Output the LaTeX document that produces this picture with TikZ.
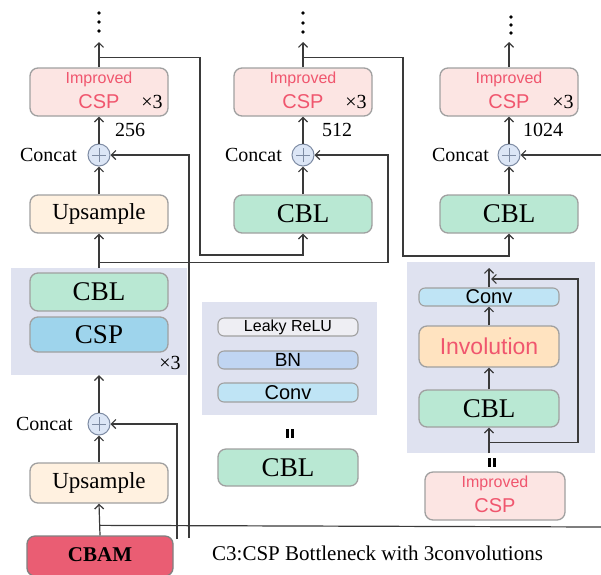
\documentclass[tikz,border=0pt]{standalone}
\usepackage{fontspec}
\setmainfont{Liberation Serif}
\newfontfamily\arialf{Liberation Sans}
\usetikzlibrary{arrows.meta}
\definecolor{bordergray}{HTML}{A0A0A0}
\definecolor{impfill}{HTML}{FCE5E3}
\definecolor{imptext}{HTML}{F0566E}
\definecolor{upfill}{HTML}{FFF1E0}
\definecolor{cblfill}{HTML}{B9E8D3}
\definecolor{cspfill}{HTML}{9ED4EC}
\definecolor{grpfill}{HTML}{DFE2F0}
\definecolor{leakyfill}{HTML}{EEEEF3}
\definecolor{bnfill}{HTML}{C0D5F2}
\definecolor{convfill}{HTML}{BFE4F5}
\definecolor{invfill}{HTML}{FFE3C0}
\definecolor{cbamfill}{HTML}{EA5D73}
\definecolor{catfill}{HTML}{DCE6F6}
\definecolor{catdraw}{HTML}{7D8BA3}
\definecolor{linec}{HTML}{3A3A3A}
\newcommand\myfs[1]{\fontsize{#1}{#1}\selectfont}
\begin{document}
\begin{tikzpicture}[x=1pt,y=-1pt,
  blk/.style={draw=bordergray, line width=1.3pt, rounded corners=8pt, minimum width=138pt, inner sep=0pt},
  sblk/.style={draw=bordergray, line width=1.1pt, rounded corners=6pt, minimum width=140pt, inner sep=0pt},
  grp/.style={fill=grpfill, inner sep=0pt},
  txt/.style={inner sep=0pt},
  catn/.style={circle, draw=catdraw, fill=catfill, line width=1pt, minimum size=22pt, inner sep=0pt,
    path picture={\draw[catdraw,line width=1pt]
      ([xshift=-7pt]path picture bounding box.center) -- ([xshift=7pt]path picture bounding box.center)
      ([yshift=-7pt]path picture bounding box.center) -- ([yshift=7pt]path picture bounding box.center);}},
  ln/.style={draw=linec, line width=1.2pt},
  arr/.style={ln, -{Straight Barb[length=4.5pt,width=9pt]}},
  eqbar/.style={line width=2.6pt, black}
]
\clip (0,0) rectangle (601,574);
\fill[white] (0,0) rectangle (601,574);

% ---------- column 1 top ----------
\node[blk, fill=impfill, minimum height=48pt] (imp1) at (99,92) {};
\node[txt, text=imptext, font=\arialf\myfs{16}] (imp1a) at (99,79) {Improved};
\node[txt, text=imptext, font=\arialf\myfs{20}] (imp1b) at (99,102) {CSP};
\node[txt, font=\myfs{20}] (imp1x) at (152,102) {×3};
\node[txt, font=\myfs{20}, anchor=west] (n256) at (115,130) {256};
\node[catn] (cat1) at (99,155) {};
\node[txt, font=\myfs{20}, anchor=east] (cat1l) at (77,155) {Concat};
\node[blk, fill=upfill, minimum height=38pt, font=\myfs{23}] (upa) at (99,214) {Upsample};

% ---------- column 2 top ----------
\node[blk, fill=impfill, minimum height=48pt] (imp2) at (303,92) {};
\node[txt, text=imptext, font=\arialf\myfs{16}] (imp2a) at (303,79) {Improved};
\node[txt, text=imptext, font=\arialf\myfs{20}] (imp2b) at (303,102) {CSP};
\node[txt, font=\myfs{20}] (imp2x) at (356,102) {×3};
\node[txt, font=\myfs{20}, anchor=west] (n512) at (322,130) {512};
\node[catn] (cat2) at (303,155) {};
\node[txt, font=\myfs{20}, anchor=east] (cat2l) at (282,155) {Concat};
\node[blk, fill=cblfill, minimum height=38pt, font=\myfs{27}] (cbl2) at (303,214) {CBL};

% ---------- column 3 top ----------
\node[blk, fill=impfill, minimum height=48pt] (imp3) at (509,92) {};
\node[txt, text=imptext, font=\arialf\myfs{16}] (imp3a) at (509,79) {Improved};
\node[txt, text=imptext, font=\arialf\myfs{20}] (imp3b) at (509,102) {CSP};
\node[txt, font=\myfs{20}] (imp3x) at (563,102) {×3};
\node[txt, font=\myfs{20}, anchor=west] (n1024) at (523,130) {1024};
\node[catn] (cat3) at (509,155) {};
\node[txt, font=\myfs{20}, anchor=east] (cat3l) at (489,155) {Concat};
\node[blk, fill=cblfill, minimum height=38pt, font=\myfs{27}] (cbl3) at (509,214) {CBL};

% dots
\foreach \cx/\ya/\yb/\yc in {99/13/22/31, 303/13/23/32, 511/17/25/33} {
  \fill[black] (\cx,\ya) circle (1.8pt) (\cx,\yb) circle (1.8pt) (\cx,\yc) circle (1.8pt);
}
\coordinate (top1) at (99,42);
\coordinate (top2) at (303,42);
\coordinate (top3) at (509,42);

% ---------- left group ----------
\node[grp, minimum width=176pt, minimum height=107pt] (grp1) at (99,321.5) {};
\node[blk, fill=cblfill, minimum height=38pt, font=\myfs{27}] (cbla) at (99,292) {CBL};
\node[blk, fill=cspfill, minimum height=35pt, font=\myfs{27}] (cspa) at (99,334.5) {CSP};
\node[txt, font=\myfs{20}] (grp1x) at (170,363) {×3};
\node[catn] (catB) at (99,424) {};
\node[txt, font=\myfs{20}, anchor=east] (catBl) at (73,424) {Concat};
\node[blk, fill=upfill, minimum height=40pt, font=\myfs{23}] (upb) at (99,483) {Upsample};
\node[blk, fill=cbamfill, draw=gray, minimum width=146pt, minimum height=40pt] (cbam) at (100,556) {};
\node[txt, font=\bfseries\myfs{21}] (cbamt) at (100,555) {CBAM};

% ---------- legend group ----------
\node[grp, minimum width=175pt, minimum height=113pt] (lgrp) at (289.5,358.5) {};
\node[sblk, fill=leakyfill, minimum height=18pt, font=\arialf\myfs{16}] (leaky) at (288,327) {Leaky ReLU};
\node[sblk, fill=bnfill, minimum height=18pt, font=\arialf\myfs{19}] (bn) at (288,360) {BN};
\node[sblk, fill=convfill, minimum height=19pt, font=\arialf\myfs{20}] (convm) at (288,392.5) {Conv};
\draw[eqbar] (287.5,429) -- (287.5,438) (292.5,429) -- (292.5,438);
\node[blk, minimum width=140pt, fill=cblfill, minimum height=37pt, font=\myfs{27}] (cblm) at (288,467.5) {CBL};

% ---------- right group ----------
\node[grp, minimum width=188pt, minimum height=191pt] (rgrp) at (501,357.5) {};
\node[sblk, fill=convfill, minimum height=18pt, font=\arialf\myfs{20}] (convr) at (489,297) {Conv};
\node[blk, minimum width=140pt, fill=invfill, minimum height=41pt, text=imptext, font=\arialf\myfs{23}] (invr) at (489,346.5) {Involution};
\node[blk, minimum width=140pt, fill=cblfill, minimum height=37pt, font=\myfs{27}] (cblr) at (489,408.5) {CBL};
\draw[eqbar] (489.5,458) -- (489.5,467) (494.5,458) -- (494.5,467);
\node[blk, minimum width=140pt, fill=impfill, minimum height=48pt] (impr) at (495,496) {};
\node[txt, text=imptext, font=\arialf\myfs{16}] (impra) at (495,483) {Improved};
\node[txt, text=imptext, font=\arialf\myfs{20}] (imprb) at (495,506) {CSP};
\coordinate (rtop) at (489,268);

% caption
\node[txt, font=\myfs{21}, anchor=west] (cap) at (212,553) {C3:CSP Bottleneck with 3convolutions};

% free input ends
\coordinate (in1) at (189,538);
\coordinate (inB) at (177,539);
\coordinate (in3) at (601,155);
\coordinate (outR) at (601,527);

% ---------- connectors ----------
\draw[arr] (imp1.north) -- (top1);
\draw[arr] (imp2.north) -- (top2);
\draw[arr] (imp3.north) -- (top3);
\draw[arr] (cat1.north) -- (imp1.south);
\draw[arr] (cat2.north) -- (imp2.south);
\draw[arr] (cat3.north) -- (imp3.south);
\draw[arr] (upa.north) -- (cat1.south);
\draw[arr] (cbl2.north) -- (cat2.south);
\draw[arr] (cbl3.north) -- (cat3.south);

\draw[arr] (imp1.north) ++(0,-10) -| (200,255) -| (cbl2.south);
\draw[arr] (imp2.north) ++(0,-10) -| (403,256) -| (cbl3.south);
\draw[arr] (grp1.north) -- (upa.south);
\draw[arr] (grp1.north) ++(0,-5) -| (388,155) -- (cat2.east);
\draw[arr] (in1) |- (cat1.east);
\draw[arr] (inB) |- (catB.east);
\draw[arr] (in3) -- (cat3.east);

\draw[arr] (catB.north) -- (grp1.south);
\draw[arr] (upb.north) -- (catB.south);
\draw[arr] (cbam.north) -- (upb.south);
\draw[ln] (cbam.north) ++(0,-10) -- (outR);

\draw[arr] (cblr.south |- rgrp.south) -- (cblr.south);
\draw[arr] (cblr.north) -- (invr.south);
\draw[arr] (invr.north) -- (convr.south);
\draw[arr] (convr.north) -- (rtop);
\draw[arr] (cblr.south) ++(0,15) -| (578,279) -- (491,279);
\end{tikzpicture}
\end{document}
